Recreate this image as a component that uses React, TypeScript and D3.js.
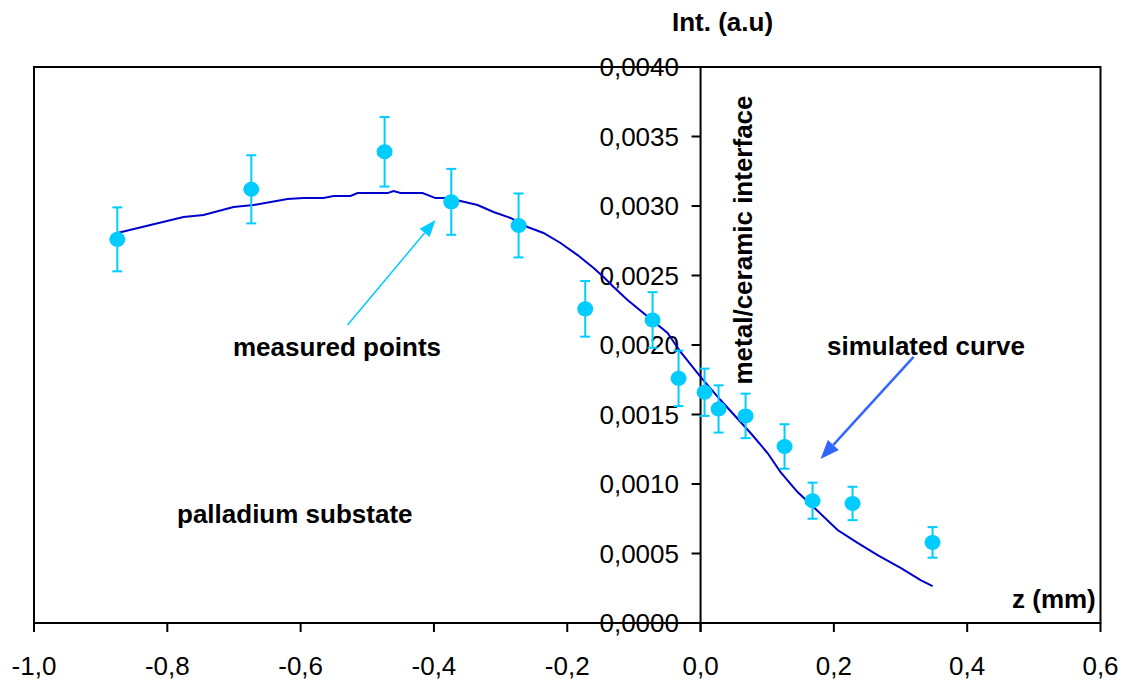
import React from "react";
import * as d3 from "d3";

const measuredZ = [-0.875, -0.674, -0.474, -0.374, -0.273, -0.173, -0.072, -0.033, 0.006, 0.027, 0.0675, 0.126, 0.168, 0.228, 0.348];
const measuredInt = [0.00276, 0.00312, 0.00339, 0.00303, 0.00286, 0.00226, 0.00218, 0.00176, 0.00166, 0.00154, 0.00149, 0.00127, 0.00088, 0.00086, 0.00058];
const measuredErr = [0.00023, 0.000245, 0.00025, 0.000237, 0.00023, 0.0002, 0.0002, 0.0002, 0.00017, 0.00017, 0.00016, 0.00016, 0.00013, 0.00012, 0.00011];

const simZ = [-0.875, -0.7757, -0.7457, -0.7007, -0.6707, -0.6197, -0.5957, -0.5656, -0.5506, -0.5251, -0.5146, -0.4696, -0.4606, -0.4501, -0.4171, -0.3976, -0.3826, -0.3601, -0.3346, -0.3106, -0.2851, -0.2596, -0.2356, -0.2101, -0.1845, -0.1605, -0.1455, -0.1305, -0.1095, -0.0495, -0.03, 0.0, 0.03, 0.075, 0.1005, 0.12, 0.1455, 0.1695, 0.2056, 0.2356, 0.2656, 0.3001, 0.3301, 0.3481];
const simInt = [0.002806, 0.002921, 0.002935, 0.002993, 0.003007, 0.00305, 0.003057, 0.003057, 0.003072, 0.003072, 0.003093, 0.003093, 0.003108, 0.003093, 0.003093, 0.003057, 0.003057, 0.003036, 0.003007, 0.002957, 0.002914, 0.002849, 0.002806, 0.002734, 0.002647, 0.002554, 0.002489, 0.002417, 0.002324, 0.002086, 0.00195, 0.00177, 0.001604, 0.001367, 0.001223, 0.001086, 0.000942, 0.000834, 0.000669, 0.000576, 0.000489, 0.000396, 0.000309, 0.000266];

const xTicks = [-1.0, -0.8, -0.6, -0.4, -0.2, 0.0, 0.2, 0.4, 0.6];
const yTicks = [0, 0.0005, 0.001, 0.0015, 0.002, 0.0025, 0.003, 0.0035, 0.004];

const arrowMeasured = { from: [-0.5296, 0.002144], to: [-0.3976, 0.0029] };
const arrowSimulated = { from: [0.3196, 0.001914], to: [0.18, 0.00118] };

const FONT = "'Liberation Sans', Arial, sans-serif";

function Arrow({ x1, y1, x2, y2, color, width, headLen, headW }: any) {
  const ang = Math.atan2(y2 - y1, x2 - x1);
  const bx = x2 - headLen * Math.cos(ang);
  const by = y2 - headLen * Math.sin(ang);
  const px = -Math.sin(ang) * headW / 2;
  const py = Math.cos(ang) * headW / 2;
  return (
    <g>
      <line x1={x1} y1={y1} x2={bx} y2={by} stroke={color} strokeWidth={width} />
      <polygon points={`${x2},${y2} ${bx + px},${by + py} ${bx - px},${by - py}`} fill={color} />
    </g>
  );
}

export default function App() {
  const x = d3.scaleLinear().domain([-1, 0.6]).range([34, 1100.5]);
  const y = d3.scaleLinear().domain([0, 0.004]).range([623, 67]);
  const x0 = x(0);
  const line = d3.line<number>().x((_, i) => x(simZ[i])).y((d) => y(d));
  const fmtX = (v: number) => d3.format(".1f")(v).replace(".", ",").replace("−", "-");
  const fmtY = (v: number) => d3.format(".4f")(v).replace(".", ",");
  const cyan = "#00CCFF";

  return (
    <svg width={1126} height={682} style={{ position: "absolute", left: 0, top: 0, display: "block" }}>
      <rect x={0} y={0} width={1126} height={682} fill="#ffffff" />
      {/* plot frame */}
      <rect x={34} y={67} width={1100.5 - 34} height={623 - 67} fill="none" stroke="#000" strokeWidth={2} />
      {/* x axis */}
      <line x1={34} y1={623} x2={1100.5} y2={623} stroke="#000" strokeWidth={2} />
      {xTicks.map((t) => (
        <g key={"xt" + t}>
          <line x1={x(t)} x2={x(t)} y1={623} y2={632} stroke="#000" strokeWidth={2} />
          <text x={x(t)} y={675} textAnchor="middle" fontFamily={FONT} fontSize={26} fill="#000">
            {fmtX(t)}
          </text>
        </g>
      ))}
      {/* y axis */}
      <line x1={x0} y1={67} x2={x0} y2={632} stroke="#000" strokeWidth={2} />
      {yTicks.map((t) => (
        <g key={"yt" + t}>
          <line x1={x0 - 9} x2={x0} y1={y(t)} y2={y(t)} stroke="#000" strokeWidth={2} />
          <text x={679} y={y(t) + 9} textAnchor="end" fontFamily={FONT} fontSize={26} fill="#000">
            {fmtY(t)}
          </text>
        </g>
      ))}
      {/* simulated curve */}
      <path d={line(simInt) || ""} fill="none" stroke="#0000CC" strokeWidth={2} />
      {/* measured points */}
      {measuredZ.map((z, i) => {
        const cx = x(z);
        const top = y(measuredInt[i] + measuredErr[i]);
        const bot = y(measuredInt[i] - measuredErr[i]);
        return (
          <g key={"m" + i}>
            <line x1={cx} x2={cx} y1={top} y2={bot} stroke={cyan} strokeWidth={2} />
            <line x1={cx - 5} x2={cx + 5} y1={top} y2={top} stroke={cyan} strokeWidth={2} />
            <line x1={cx - 5} x2={cx + 5} y1={bot} y2={bot} stroke={cyan} strokeWidth={2} />
            <ellipse cx={cx} cy={y(measuredInt[i])} rx={8} ry={7.5} fill={cyan} />
          </g>
        );
      })}
      {/* annotations */}
      <Arrow
        x1={x(arrowMeasured.from[0])} y1={y(arrowMeasured.from[1])}
        x2={x(arrowMeasured.to[0])} y2={y(arrowMeasured.to[1])}
        color={cyan} width={1.5} headLen={17} headW={13}
      />
      <Arrow
        x1={x(arrowSimulated.from[0])} y1={y(arrowSimulated.from[1])}
        x2={x(arrowSimulated.to[0])} y2={y(arrowSimulated.to[1])}
        color="#3366FF" width={2.5} headLen={19} headW={15}
      />
      <text x={672} y={31} fontFamily={FONT} fontSize={26} fontWeight="bold" fill="#000">Int. (a.u)</text>
      <text x={233} y={356} fontFamily={FONT} fontSize={26} fontWeight="bold" fill="#000">measured points</text>
      <text x={177} y={523} fontFamily={FONT} fontSize={26} fontWeight="bold" fill="#000">palladium substate</text>
      <text x={827} y={355} fontFamily={FONT} fontSize={26} fontWeight="bold" fill="#000">simulated curve</text>
      <text x={1012} y={608} fontFamily={FONT} fontSize={26} fontWeight="bold" fill="#000">z (mm)</text>
      <text
        transform={`translate(752, 240) rotate(-90)`}
        textAnchor="middle"
        fontFamily={FONT}
        fontSize={26}
        fontWeight="bold"
        fill="#000"
      >
        metal/ceramic interface
      </text>
    </svg>
  );
}
